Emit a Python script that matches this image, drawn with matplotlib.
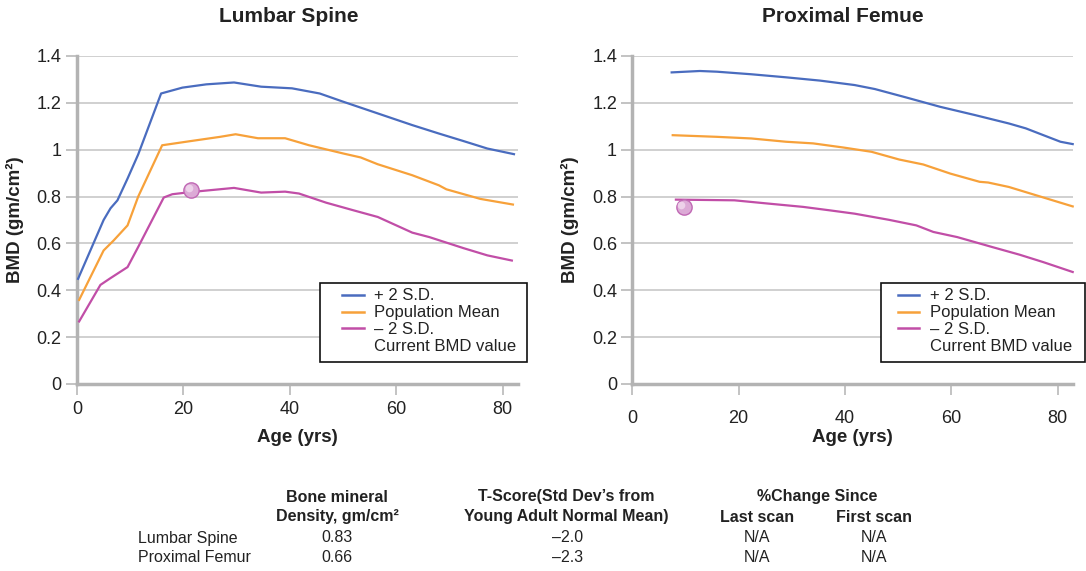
import matplotlib
matplotlib.use("Agg")
import matplotlib.pyplot as plt
from matplotlib.lines import Line2D
from matplotlib.patches import Rectangle

plt.rcParams['font.family'] = ['Liberation Sans', 'DejaVu Sans']

# ---------------- data ----------------
# Lumbar spine
ls_plus_age = [0.2, 5, 6.3, 7.6, 9.5, 11.5, 15.8, 19.8, 24.3, 29.5, 34.6, 40.4, 45.6, 50, 56.5, 63, 68, 72.6, 77.1, 82.1]
ls_plus_val = [0.449, 0.70, 0.75, 0.784, 0.877, 0.98, 1.24, 1.265, 1.279, 1.287, 1.269, 1.262, 1.24, 1.205, 1.155, 1.105, 1.069, 1.037, 1.005, 0.981]
ls_mean_age = [0.4, 5, 6.9, 9.5, 11.5, 16, 21.1, 26.9, 29.8, 34, 39.1, 43.6, 50, 53.3, 56.5, 63, 68, 69.4, 75.8, 81.9]
ls_mean_val = [0.359, 0.570, 0.613, 0.677, 0.80, 1.019, 1.036, 1.055, 1.066, 1.049, 1.049, 1.019, 0.984, 0.967, 0.938, 0.891, 0.848, 0.831, 0.79, 0.766]
ls_minus_age = [0.4, 4.4, 6.3, 9.5, 11.5, 16.3, 17.9, 21.7, 29.5, 34.6, 39.1, 41.7, 46.8, 52, 56.5, 63, 66.2, 72.6, 77.1, 81.7]
ls_minus_val = [0.267, 0.423, 0.452, 0.499, 0.585, 0.796, 0.81, 0.82, 0.837, 0.817, 0.821, 0.813, 0.774, 0.741, 0.713, 0.646, 0.627, 0.580, 0.549, 0.527]
ls_current = (21.5, 0.83)

# Proximal femur
pf_plus_age = [7.4, 12.7, 15.9, 22.4, 28.9, 35.3, 41.8, 45.6, 51.5, 57.9, 64.4, 70.8, 74, 77.3, 80.5, 82.8]
pf_plus_val = [1.330, 1.336, 1.333, 1.322, 1.309, 1.295, 1.276, 1.259, 1.223, 1.183, 1.148, 1.112, 1.091, 1.062, 1.034, 1.024]
pf_mean_age = [7.6, 15.9, 22.4, 28.9, 34, 39.8, 45, 50.2, 54.7, 59.8, 65.3, 66.9, 70.8, 77.3, 82.8]
pf_mean_val = [1.062, 1.055, 1.048, 1.034, 1.027, 1.009, 0.991, 0.958, 0.937, 0.898, 0.863, 0.860, 0.841, 0.796, 0.758]
pf_minus_age = [8.2, 19.2, 25.6, 32.1, 37.2, 41.8, 48.2, 53.4, 56.6, 61.1, 67.6, 72.8, 77.3, 82.8]
pf_minus_val = [0.787, 0.784, 0.770, 0.756, 0.741, 0.727, 0.701, 0.677, 0.649, 0.627, 0.585, 0.552, 0.520, 0.478]
pf_current = (9.7, 0.756)

x_ticks = [0, 20, 40, 60, 80]
y_ticks = [0, 0.2, 0.4, 0.6, 0.8, 1.0, 1.2, 1.4]
y_tick_labels = ['0', '0.2', '0.4', '0.6', '0.8', '1', '1.2', '1.4']
legend_labels = ['+ 2 S.D.', 'Population Mean', '\u2013 2 S.D.', 'Current BMD value']

table_header1 = ['Bone mineral', "T-Score(Std Dev\u2019s from", '%Change Since']
table_header2 = ['Density, gm/cm\u00b2', 'Young Adult Normal Mean)', 'Last scan', 'First scan']
row_names = ['Lumbar Spine', 'Proximal Femur']
bmd_values = ['0.83', '0.66']
t_scores = ['\u20132.0', '\u20132.3']
last_scan = ['N/A', 'N/A']
first_scan = ['N/A', 'N/A']

# ---------------- style ----------------
C_BLUE = '#4a6cbf'
C_ORANGE = '#f7a13a'
C_MAG = '#c14ea7'
SPINE = '#b3b3b3'
GRID = '#c8c8c8'
W, H = 1086, 571

fig = plt.figure(figsize=(W / 100, H / 100), dpi=100)


def fx(px):
    return px / W


def fy(py):
    return 1 - py / H


ax1 = fig.add_axes([fx(77), fy(384), fx(440.7), (384 - 56) / H])
ax2 = fig.add_axes([fx(632.3), fy(384), fx(440.4), (384 - 56) / H])


def style(ax, xpad):
    ax.set_xlim(0, 82.8)
    ax.set_ylim(0, 1.4)
    ax.set_xticks(x_ticks)
    ax.set_yticks(y_ticks)
    ax.set_yticklabels(y_tick_labels)
    for s in ['top', 'right']:
        ax.spines[s].set_visible(False)
    for s in ['left', 'bottom']:
        ax.spines[s].set_color(SPINE)
        ax.spines[s].set_linewidth(2.5)
        ax.spines[s].set_zorder(3)
    ax.grid(axis='y', color=GRID, linewidth=1.2)
    ax.set_axisbelow(True)
    ax.tick_params(axis='y', length=8, width=1.1, color=SPINE, pad=3, labelsize=13, labelcolor='#222222')
    ax.tick_params(axis='x', length=8, width=1.1, color=SPINE, pad=xpad, labelsize=13, labelcolor='#222222')
    ax.set_xlabel('Age (yrs)', fontsize=13.5, fontweight='bold', color='#222222')
    ax.set_ylabel('BMD (gm/cm\u00b2)', fontsize=13.5, fontweight='bold', color='#222222')
    ax.xaxis.label.set_va('center')
    ax.yaxis.label.set_va('center')


style(ax1, 4.5)
style(ax2, 11)
ax1.xaxis.set_label_coords(0.5, (384 - 438) / 328)
ax2.xaxis.set_label_coords(0.5, (384 - 437.7) / 328)
ax1.yaxis.set_label_coords((15 - 77) / 440.7, 0.5)
ax2.yaxis.set_label_coords((570 - 632.3) / 440.4, 0.5)

for ax, series, cur in [
    (ax1, [(ls_plus_age, ls_plus_val, C_BLUE), (ls_mean_age, ls_mean_val, C_ORANGE), (ls_minus_age, ls_minus_val, C_MAG)], ls_current),
    (ax2, [(pf_plus_age, pf_plus_val, C_BLUE), (pf_mean_age, pf_mean_val, C_ORANGE), (pf_minus_age, pf_minus_val, C_MAG)], pf_current),
]:
    for a, v, c in series:
        ax.plot(a, v, color=c, linewidth=1.6, clip_on=False, zorder=4, solid_joinstyle='round')
    ax.plot([cur[0]], [cur[1]], 'o', markersize=11, markerfacecolor='#dcaad6',
            markeredgecolor='#c068b4', markeredgewidth=1.0, zorder=5)
    ax.plot([cur[0] - 0.5], [cur[1] + 0.008], 'o', markersize=5.5, markerfacecolor='#f2dcef',
            markeredgewidth=0, alpha=0.8, zorder=6)

fig.text(fx(289), fy(16), 'Lumbar Spine', fontsize=15, fontweight='bold', ha='center', va='center', color='#222222')
fig.text(fx(843), fy(16), 'Proximal Femue', fontsize=15, fontweight='bold', ha='center', va='center', color='#222222')

# legends
handles = [Line2D([], [], color=C_BLUE, lw=1.8), Line2D([], [], color=C_ORANGE, lw=1.8),
           Line2D([], [], color=C_MAG, lw=1.8), Line2D([], [], color='none')]
for (bx0, bx1, hx) in [(320, 526.7, 342.3), (881, 1084.5, 897.7)]:
    fig.patches.append(Rectangle((fx(bx0), fy(361.7)), fx(bx1 - bx0), (361.7 - 282.7) / H,
                                 transform=fig.transFigure, facecolor='white', edgecolor='#111111',
                                 linewidth=1.2, zorder=10))
    leg = fig.legend(handles, legend_labels, loc='upper left', bbox_to_anchor=(fx(hx), fy(288.5)),
                     bbox_transform=fig.transFigure, frameon=False, borderpad=0, borderaxespad=0,
                     handlelength=1.28, handletextpad=0.64, labelspacing=0.11, fontsize=12)
    leg.set_zorder(11)
    for t in leg.get_texts():
        t.set_color('#222222')

# table
tfs = 11.5
fig.text(fx(337), fy(497), table_header1[0], fontsize=tfs, fontweight='bold', ha='center', va='center', color='#222222')
fig.text(fx(566), fy(497), table_header1[1], fontsize=tfs, fontweight='bold', ha='center', va='center', color='#222222')
fig.text(fx(817), fy(497), table_header1[2], fontsize=tfs, fontweight='bold', ha='center', va='center', color='#222222')
fig.text(fx(337), fy(517), table_header2[0], fontsize=tfs, fontweight='bold', ha='center', va='center', color='#222222')
fig.text(fx(566), fy(517), table_header2[1], fontsize=tfs, fontweight='bold', ha='center', va='center', color='#222222')
fig.text(fx(757), fy(517), table_header2[2], fontsize=tfs, fontweight='bold', ha='center', va='center', color='#222222')
fig.text(fx(874), fy(517), table_header2[3], fontsize=tfs, fontweight='bold', ha='center', va='center', color='#222222')
for i, ypx in enumerate([538, 558]):
    fig.text(fx(138), fy(ypx), row_names[i], fontsize=tfs, ha='left', va='center', color='#222222')
    fig.text(fx(337), fy(ypx), bmd_values[i], fontsize=tfs, ha='center', va='center', color='#222222')
    fig.text(fx(568), fy(ypx), t_scores[i], fontsize=tfs, ha='center', va='center', color='#222222')
    fig.text(fx(757), fy(ypx), last_scan[i], fontsize=tfs, ha='center', va='center', color='#222222')
    fig.text(fx(874), fy(ypx), first_scan[i], fontsize=tfs, ha='center', va='center', color='#222222')

fig.savefig('out.png', dpi=100)
